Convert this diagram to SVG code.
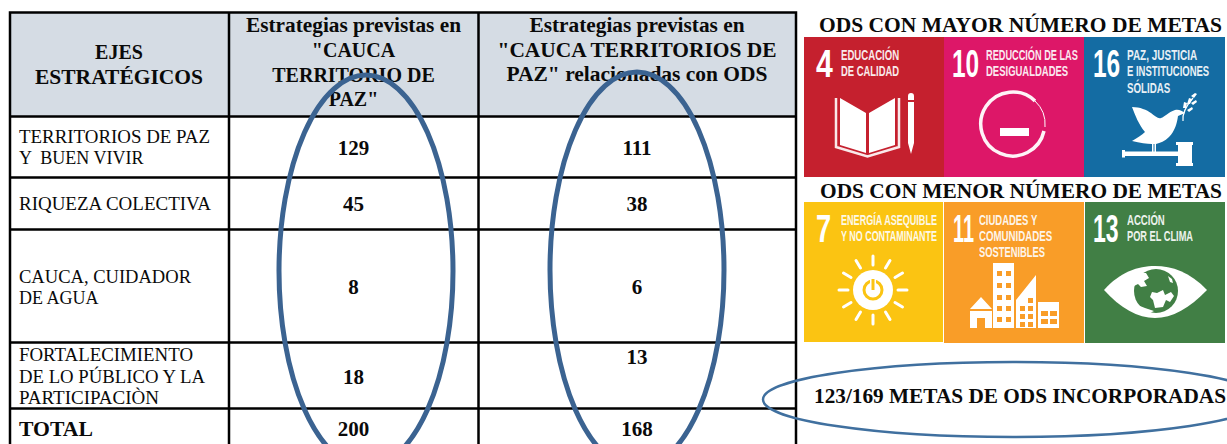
<svg xmlns="http://www.w3.org/2000/svg" width="1227" height="444" viewBox="0 0 1227 444">
<defs><style>
text{font-family:"Liberation Serif","Times New Roman",serif;fill:#0a0a0a;white-space:pre}
.h{font-size:20px;font-weight:bold;text-anchor:middle}
.c{font-size:18px}
.n{font-size:21px;font-weight:bold;text-anchor:middle}
.t{font-size:20px;font-weight:bold}
.l{stroke:#000;stroke-width:2.500;fill:none}
.o{fill:none;stroke:#3b6391}
.i{font-family:"Liberation Sans",Arial,sans-serif;font-weight:bold;fill:#fff;font-size:15.500px;opacity:.9}
.d{font-family:"Liberation Sans",Arial,sans-serif;font-weight:bold;fill:#fff;font-size:39px}
.w{fill:#fff;stroke:none}
.r{stroke:#fff;stroke-width:3;stroke-linecap:round;fill:none}
</style></defs>
<rect width="1227" height="444" fill="#fff"/>
<g id="tabla">
<rect x="10" y="12" width="786" height="104.500" fill="#d5dce4"/>
<path class="l" d="M10 444V12.500H796V444M229 12.500V444M478.500 12.500V444M10 116.500H796M10 177.500H796M10 229.500H796M10 342.500H796M10 408.500H796"/>
<text class="h" x="353.500" y="32" textLength="215" lengthAdjust="spacingAndGlyphs">Estrategias previstas en</text>
<text class="h" x="353.500" y="57">"CAUCA</text>
<text class="h" x="353.500" y="82">TERRITORIO DE</text>
<text class="h" x="353.500" y="106">PAZ"</text>
<text class="h" x="637" y="32" textLength="215" lengthAdjust="spacingAndGlyphs">Estrategias previstas en</text>
<text class="h" x="637" y="57" textLength="279" lengthAdjust="spacingAndGlyphs">"CAUCA TERRITORIOS DE</text>
<text class="h" x="637" y="81" textLength="261" lengthAdjust="spacingAndGlyphs">PAZ" relacionadas con ODS</text>
<text class="h" x="119" y="59">EJES</text>
<text class="h" x="119" y="84" textLength="168" lengthAdjust="spacingAndGlyphs">ESTRATÉGICOS</text>
<text class="c" x="19" y="143" textLength="191" lengthAdjust="spacingAndGlyphs">TERRITORIOS DE PAZ</text>
<text class="c" x="19" y="164">Y  BUEN VIVIR</text>
<text class="c" x="19" y="210" textLength="192" lengthAdjust="spacingAndGlyphs">RIQUEZA COLECTIVA</text>
<text class="c" x="19" y="283" textLength="172" lengthAdjust="spacingAndGlyphs">CAUCA, CUIDADOR</text>
<text class="c" x="19" y="304">DE AGUA</text>
<text class="c" x="19" y="361" textLength="174" lengthAdjust="spacingAndGlyphs">FORTALECIMIENTO</text>
<text class="c" x="19" y="383" textLength="186" lengthAdjust="spacingAndGlyphs">DE LO PÚBLICO Y LA</text>
<text class="c" x="19" y="404" textLength="140" lengthAdjust="spacingAndGlyphs">PARTICIPACIÒN</text>
<text class="t" x="19" y="436" textLength="74" lengthAdjust="spacingAndGlyphs">TOTAL</text>
<text class="n" x="353.500" y="155">129</text><text class="n" x="353.500" y="211">45</text><text class="n" x="353.500" y="294">8</text><text class="n" x="353.500" y="384">18</text><text class="n" x="353.500" y="436">200</text>
<text class="n" x="637" y="155">111</text><text class="n" x="637" y="211">38</text><text class="n" x="637" y="294">6</text><text class="n" x="637" y="364">13</text><text class="n" x="637" y="436">168</text>
</g>
<g id="ovalos-tabla">
<ellipse class="o" cx="366" cy="271" rx="87" ry="196" stroke-width="5"/>
<ellipse class="o" cx="637" cy="270" rx="87" ry="198" stroke-width="5"/>
</g>
<g id="titulos">
<text class="t" x="819" y="32" textLength="403" lengthAdjust="spacingAndGlyphs">ODS CON MAYOR NÚMERO DE METAS</text>
<text class="t" x="820" y="198" textLength="402" lengthAdjust="spacingAndGlyphs">ODS CON MENOR NÚMERO DE METAS</text>
<text class="t" x="814" y="403" textLength="412" lengthAdjust="spacingAndGlyphs">123/169 METAS DE ODS INCORPORADAS</text>
</g>
<g id="ods4">
<rect x="804" y="37" width="140" height="140" fill="#c5202e"/>
<text class="d" transform="translate(816 77) scale(.8 1)" textLength="21" lengthAdjust="spacingAndGlyphs">4</text>
<text class="i" transform="translate(841 60) scale(.6 1)" textLength="97" lengthAdjust="spacingAndGlyphs">EDUCACIÓN</text>
<text class="i" transform="translate(841 76) scale(.6 1)" textLength="97" lengthAdjust="spacingAndGlyphs">DE CALIDAD</text>
<path class="w" d="M840 98L866 113V153L840 145ZM895 98L869 113V153L895 145Z"/>
<path d="M836 98V147L867.500 156.500L899 147V98" fill="none" stroke="#fff" stroke-width="2.500" opacity=".9"/>
<path class="w" d="M908 96a3 3 0 0 1 6 0v4h-6ZM908 102h6v41l-3 11l-3-11Z"/>
</g>
<g id="ods10">
<rect x="944" y="37" width="140" height="140" fill="#dd1768"/>
<text class="d" transform="translate(952 77) scale(.8 1)" textLength="34" lengthAdjust="spacingAndGlyphs">10</text>
<text class="i" transform="translate(986 60) scale(.6 1)" textLength="153" lengthAdjust="spacingAndGlyphs">REDUCCIÓN DE LAS</text>
<text class="i" transform="translate(986 76) scale(.6 1)" textLength="137" lengthAdjust="spacingAndGlyphs">DESIGUALDADES</text>
<path d="M1035 101A32 32 0 1 0 1044 131" fill="none" stroke="#fff" stroke-width="3.500" opacity=".95"/>
<path d="M1035 101A32 32 0 0 1 1045 127" fill="none" stroke="#fff" stroke-width="1"/>
<rect class="w" x="1000" y="128" width="29" height="8"/>
</g>
<g id="ods16">
<rect x="1084" y="37" width="141" height="140" fill="#146ca3"/>
<text class="d" transform="translate(1093 77) scale(.8 1)" textLength="34" lengthAdjust="spacingAndGlyphs">16</text>
<text class="i" transform="translate(1127 60) scale(.6 1)" textLength="117" lengthAdjust="spacingAndGlyphs">PAZ, JUSTICIA</text>
<text class="i" transform="translate(1127 76) scale(.6 1)" textLength="137" lengthAdjust="spacingAndGlyphs">E INSTITUCIONES</text>
<text class="i" transform="translate(1127 93) scale(.6 1)" textLength="72" lengthAdjust="spacingAndGlyphs">SÓLIDAS</text>
<path class="w" d="M1132 107C1140 107 1147 110 1151 113C1155 116 1158 119 1161 118C1165 117 1168 112 1175 110C1179 109 1182 111 1185 113L1178 116C1177 123 1175 131 1169 137C1165 141 1160 143 1156 144V152H1154.500V144H1153.500V152H1152V144C1147 144 1140 143 1132 141C1137 138 1142 135 1145 132C1139 125 1135 115 1132 107Z"/>
<path d="M1183 121C1182 113 1186 106 1193 98" fill="none" stroke="#fff" stroke-width="1.200"/>
<path class="w" d="M1183 108l1-6l3 1l-1 5ZM1187 104l2-6l3 1l-2 5ZM1191 96l4-3l2 1l-3 4ZM1187 110l5-3l1 2l-4 3ZM1191 103l5-3l1 2l-4 3Z"/>
<path class="w" d="M1122 150H1125V151.500H1178V145H1176V142H1193V145H1192V163H1193V166H1176V163H1178V156H1125V157.500H1122Z"/>
</g>
<g id="ods7">
<rect x="804" y="202" width="139" height="140" fill="#fbc412"/>
<text class="d" transform="translate(816 242) scale(.8 1)" textLength="19" lengthAdjust="spacingAndGlyphs">7</text>
<text class="i" transform="translate(841 225) scale(.6 1)" textLength="160" lengthAdjust="spacingAndGlyphs" opacity=".75">ENERGÍA ASEQUIBLE</text>
<text class="i" transform="translate(841 241) scale(.6 1)" textLength="160" lengthAdjust="spacingAndGlyphs" opacity=".75">Y NO CONTAMINANTE</text>
<circle class="w" cx="873" cy="290" r="20"/>
<circle cx="873" cy="290" r="9" fill="none" stroke="#fbc412" stroke-width="3"/>
<path d="M873 278V290" stroke="#fff" stroke-width="6"/><path d="M873 279V290" stroke="#fbc412" stroke-width="3"/>
<path class="r" d="M873 256V265M873 315V324M839 290H848M898 290H907M856 260.500L860.500 268M885.500 312L890 319.500M843.500 273L851 277.500M895 302.500L902.500 307M843.500 307L851 302.500M895 277.500L902.500 273M856 319.500L860.500 312M885.500 268L890 260.500"/>
</g>
<g id="ods11">
<rect x="944" y="202" width="140" height="141" fill="#f99d28"/>
<text class="d" transform="translate(953 242) scale(.5 1)" textLength="42" lengthAdjust="spacingAndGlyphs">11</text>
<text class="i" transform="translate(979 225) scale(.6 1)" textLength="97" lengthAdjust="spacingAndGlyphs" opacity=".8">CIUDADES Y</text>
<text class="i" transform="translate(979 241) scale(.6 1)" textLength="122" lengthAdjust="spacingAndGlyphs" opacity=".8">COMUNIDADES</text>
<text class="i" transform="translate(979 257) scale(.6 1)" textLength="110" lengthAdjust="spacingAndGlyphs" opacity=".8">SOSTENIBLES</text>
<path class="w" d="M970 309L981 297L992 309ZM970 311H992V328H985V318H977V328H970ZM993 263H1014V328H993ZM1016 300L1036 275V328H1016ZM1038 302H1059V328H1038Z"/>
<path fill="#f99d28" d="M997 271h5v5h-5zM1006 271h5v5h-5zM997 283h5v5h-5zM1006 283h5v5h-5zM997 295h5v5h-5zM1006 295h5v5h-5zM997 306h5v5h-5zM1006 306h5v5h-5zM997 317h5v5h-5zM1006 317h5v5h-5zM1020 306h5v5h-5zM1028 306h5v5h-5zM1020 314h5v5h-5zM1028 314h5v5h-5zM1028 298h5v5h-5zM1020 322h5v5h-5zM1028 322h5v5h-5zM1041 311h7v5h-7zM1050 311h7v5h-7zM1041 319h7v5h-7zM1050 319h7v5h-7z"/>
</g>
<g id="ods13">
<rect x="1085" y="202" width="140" height="141" fill="#417f45"/>
<text class="d" transform="translate(1093 242) scale(.8 1)" textLength="32" lengthAdjust="spacingAndGlyphs">13</text>
<text class="i" transform="translate(1127 225) scale(.6 1)" textLength="63" lengthAdjust="spacingAndGlyphs">ACCIÓN</text>
<text class="i" transform="translate(1127 241) scale(.6 1)" textLength="110" lengthAdjust="spacingAndGlyphs">POR EL CLIMA</text>
<path class="w" d="M1104 290C1120 272 1138 266 1155 266C1172 266 1190 272 1207 290C1190 308 1172 318 1155 318C1138 318 1120 308 1104 290Z"/>
<circle cx="1156" cy="291" r="22" fill="#417f45"/>
<path class="w" d="M1135 279l6-6l5 0l3 5l-5 3l3 5l-6 1l-3-3l-4 2ZM1152 292l5 1l6-3l2 5l6-3l3 4l-4 6l-4-2l-3 7l-8 1l-2-8l-3-3ZM1134 303l6 3l5 2l9 3l-4 2l-10-3l-5-4ZM1168 276l4 3l1 4l-3-1Z"/>
</g>
<g id="ovalo-metas">
<ellipse class="o" cx="1013" cy="399.500" rx="250" ry="37.500" stroke-width="2.500" style="stroke:#40709f"/>
</g>
</svg>
